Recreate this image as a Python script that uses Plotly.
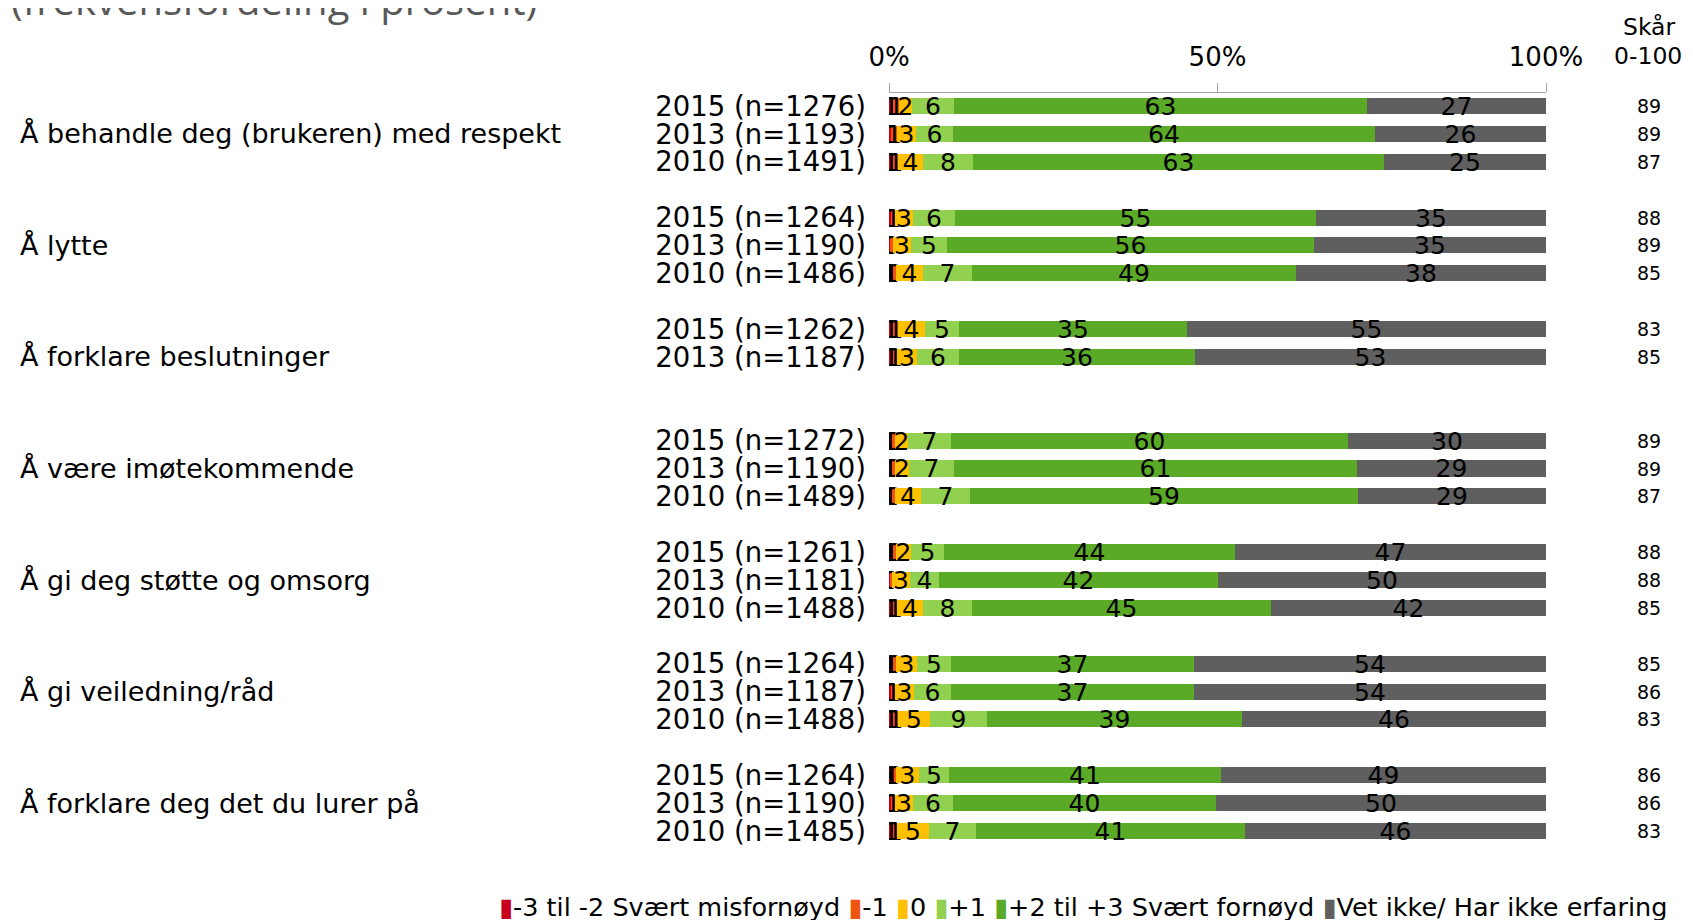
import plotly.graph_objects as go

# survey items (one group of rows each)
groups = [
    "Å behandle deg (brukeren) med respekt",
    "Å lytte",
    "Å forklare beslutninger",
    "Å være imøtekommende",
    "Å gi deg støtte og omsorg",
    "Å gi veiledning/råd",
    "Å forklare deg det du lurer på",
]

# rows: group index, year, n
row_group = [0, 0, 0, 1, 1, 1, 2, 2, 3, 3, 3, 4, 4, 4, 5, 5, 5, 6, 6, 6]
row_year = [2015, 2013, 2010, 2015, 2013, 2010, 2015, 2013, 2015, 2013, 2010,
            2015, 2013, 2010, 2015, 2013, 2010, 2015, 2013, 2010]
row_n = [1276, 1193, 1491, 1264, 1190, 1486, 1262, 1187, 1272, 1190, 1489,
         1261, 1181, 1488, 1264, 1187, 1488, 1264, 1190, 1485]

# frequency distribution in percent
red = [0.6, 0.3, 0.6, 0.3, 0.2, 0.6, 0.6, 0.6, 0.6, 0.6, 0.6,
       0.6, 0.1, 0.6, 0.6, 0.3, 0.6, 0.7, 0.3, 0.6]
orange = [0.9, 0.9, 0.7, 0.6, 0.4, 0.4, 0.7, 0.6, 0.3, 0.3, 0.3,
          0.4, 0.4, 0.6, 0.4, 0.6, 0.7, 0.4, 0.6, 0.6]
yellow = [1.95, 2.9, 3.9, 2.7, 2.8, 4.2, 4.2, 3.1, 2.0, 2.1, 4.0,
          2.4, 2.7, 3.9, 3.3, 2.9, 4.9, 3.4, 2.8, 4.9]
light = [6.45, 5.6, 7.6, 6.4, 5.4, 7.4, 5.2, 6.4, 6.6, 6.9, 7.4,
         5.0, 4.4, 7.6, 5.1, 5.7, 8.7, 4.7, 6.0, 7.2]
green = [62.8, 64.3, 62.6, 55.0, 55.9, 49.3, 34.6, 35.9, 60.3, 61.4, 59.1,
         44.3, 42.4, 45.4, 37.0, 36.9, 38.8, 41.4, 40.0, 40.9]
grey = [27.3, 26.0, 24.6, 35.0, 35.3, 38.1, 54.7, 53.4, 30.2, 28.7, 28.6,
        47.3, 50.0, 41.9, 53.6, 53.6, 46.3, 49.4, 50.3, 45.8]

# score 0-100
score = [89, 89, 87, 88, 89, 85, 83, 85, 89, 89, 87,
         88, 88, 85, 85, 86, 83, 86, 86, 83]

series_names = ["-3 til -2 Svært misfornøyd", "-1", "0", "+1",
                "+2 til +3 Svært fornøyd", "Vet ikke/ Har ikke erfaring"]
series_values = [red, orange, yellow, light, green, grey]
series_colors = ["#C8001E", "#F0550F", "#FFC000", "#92D050", "#5AAA28", "#5F5F60"]

FONT = "DejaVu Sans, Verdana, sans-serif"

# page body adds an 8px margin, so the figure is 8px smaller
W, H = 1685, 912


def px(p):
    # screen column -> paper x
    return (p - 8) / W


def py(p):
    # screen row -> paper y
    return (860 - p) / 767


# slot position of each row: 4 slots per group (3 years + gap)
year_order = {2015: 0, 2013: 1, 2010: 2}
slots = [g * 4 + year_order[y] for g, y in zip(row_group, row_year)]
ticktext = [f"{y} (n={n})" for y, n in zip(row_year, row_n)]

fig = go.Figure()
for name, vals, col in zip(series_names, series_values, series_colors):
    fig.add_trace(go.Bar(
        x=vals, y=slots, orientation="h", name=name, width=0.574,
        marker=dict(color=col, line=dict(width=0)),
        texttemplate="%{x:.0f}", textposition="inside", insidetextanchor="middle",
        textangle=0, textfont=dict(family=FONT, size=25, color="black"),
        hoverinfo="skip",
    ))

annotations = []
for i, g in enumerate(groups):
    annotations.append(dict(
        x=px(18), xref="paper", y=i * 4 + 1, yref="y", text=g,
        xanchor="left", yanchor="middle", showarrow=False,
        font=dict(family=FONT, size=27, color="black"),
    ))
for s, v in zip(slots, score):
    annotations.append(dict(
        x=px(1649), xref="paper", y=s, yref="y", text=str(v),
        xanchor="center", yanchor="middle", showarrow=False,
        font=dict(family=FONT, size=19, color="black"),
    ))

annotations += [
    dict(x=px(1649), xref="paper", y=py(27), yref="paper", text="Skår",
         showarrow=False, xanchor="center", yanchor="middle",
         font=dict(family=FONT, size=23.5, color="black")),
    dict(x=px(1648), xref="paper", y=py(56), yref="paper", text="0-100",
         showarrow=False, xanchor="center", yanchor="middle",
         font=dict(family=FONT, size=23.5, color="black")),
    dict(x=px(9), xref="paper", y=py(0), yref="paper",
         text="(frekvensfordeling i prosent)", showarrow=False,
         xanchor="left", yanchor="middle",
         font=dict(family="Open Sans, sans-serif", size=40, color="#595959")),
]

legend_text = "\u00a0".join(
    f'<span style="color:{c}">▮</span>{n}'
    for n, c in zip(series_names, series_colors)
)
annotations.append(dict(
    x=px(497), xref="paper", y=py(907), yref="paper", text=legend_text,
    showarrow=False, xanchor="left", yanchor="middle",
    font=dict(family=FONT, size=25.5, color="black"),
))

fig.update_layout(
    width=W, height=H,
    margin=dict(l=0, r=0, t=85, b=60, autoexpand=False),
    barmode="stack", bargap=0,
    showlegend=False,
    plot_bgcolor="white", paper_bgcolor="white",
    uniformtext=dict(minsize=25, mode="show"),
    annotations=annotations,
    xaxis=dict(
        domain=[px(889), px(1546)], range=[0, 100], side="top",
        tickvals=[0, 50, 100], ticktext=["0%", "50%", "100%"],
        showline=True, linecolor="#A6A6A6", linewidth=1,
        ticks="outside", ticklen=9, tickcolor="#A6A6A6",
        showgrid=False, zeroline=False, ticklabelstandoff=7,
        automargin=False,
        tickfont=dict(family=FONT, size=26, color="black"),
    ),
    yaxis=dict(
        range=[27.04, -0.466], autorange=False,
        tickvals=slots, ticktext=ticktext,
        showline=False, showgrid=False, zeroline=False, ticks="",
        ticklabelstandoff=22, automargin=False,
        tickfont=dict(family=FONT, size=27.5, color="black"),
    ),
)

fig.write_html("out.html")
